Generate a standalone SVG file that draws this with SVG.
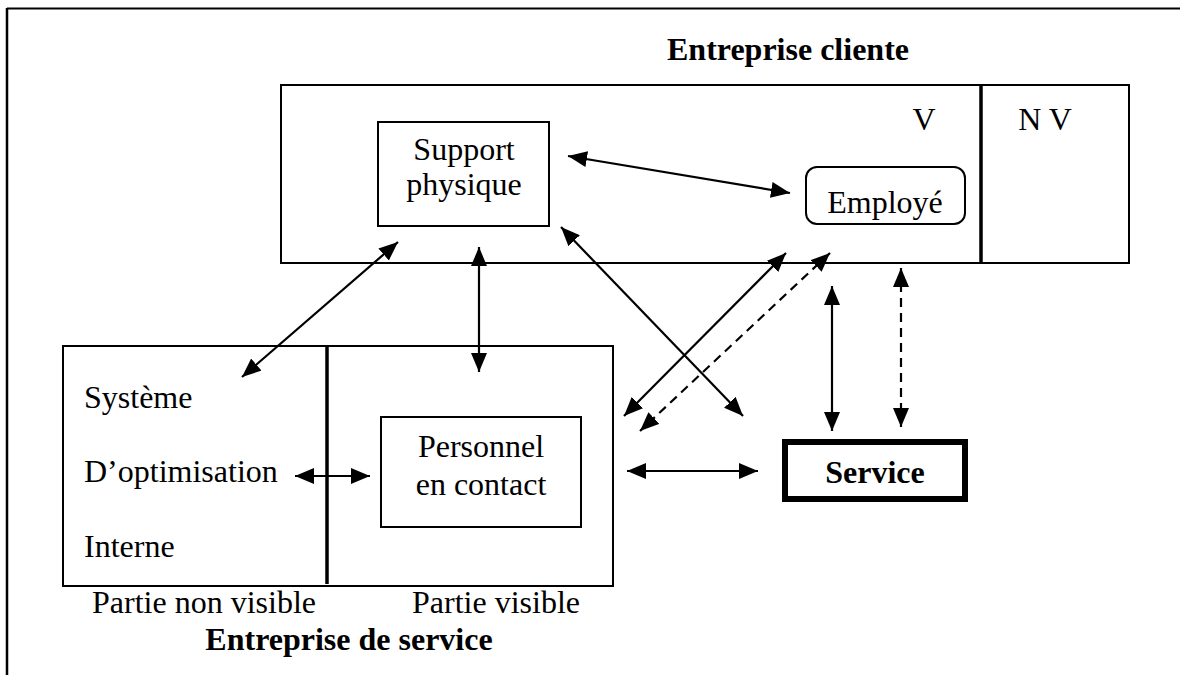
<svg xmlns="http://www.w3.org/2000/svg" width="1180" height="675" viewBox="0 0 1180 675" font-family="'Liberation Serif', 'DejaVu Serif', serif">
  <style>
    text { font-family: "Liberation Serif", "DejaVu Serif", serif; font-size: 32px; fill: #000; }
    .b { font-weight: bold; }
    .m { text-anchor: middle; }
    .box { fill: none; stroke: #000; stroke-width: 2; }
    .bar { stroke: #000; stroke-width: 3.5; }
    .link { fill: none; stroke: #000; stroke-width: 2.2; marker-start: url(#head); marker-end: url(#head); }
    .dash { stroke-dasharray: 9 6; }
  </style>
  <defs>
    <marker id="head" markerUnits="userSpaceOnUse" markerWidth="19" markerHeight="16" refX="19" refY="8" orient="auto-start-reverse">
      <path d="M0,0 L19,8 L0,16 Z" fill="#000"/>
    </marker>
  </defs>

  <rect width="1180" height="675" fill="#fff"/>

  <!-- page frame -->
  <g id="frame">
    <line x1="7" y1="8.5" x2="1180" y2="8.5" stroke="#000" stroke-width="2"/>
    <line x1="7" y1="8" x2="7" y2="675" stroke="#000" stroke-width="2.5"/>
  </g>

  <!-- client company -->
  <g id="entreprise-cliente">
    <text class="b m" x="788" y="60">Entreprise cliente</text>
    <rect class="box" x="281" y="85" width="848" height="178"/>
    <line class="bar" x1="981" y1="85" x2="981" y2="263"/>
    <text class="m" x="924" y="130">V</text>
    <text class="m" x="1045" y="130">N V</text>
  </g>

  <g id="support-physique">
    <rect class="box" x="378" y="122" width="171" height="104"/>
    <text class="m" x="464" y="160">Support</text>
    <text class="m" x="464" y="195">physique</text>
  </g>

  <g id="employe">
    <rect class="box" x="806" y="167" width="159" height="57" rx="11"/>
    <text class="m" x="885" y="213">Employé</text>
  </g>

  <!-- service company -->
  <g id="entreprise-de-service">
    <rect class="box" x="63" y="346" width="550" height="240"/>
    <line class="bar" x1="327" y1="346" x2="327" y2="584"/>
    <text x="84" y="408">Système</text>
    <text x="84" y="482">D’optimisation</text>
    <text x="84" y="557">Interne</text>
    <text class="m" x="204" y="613">Partie non visible</text>
    <text class="m" x="496" y="613">Partie visible</text>
    <text class="b m" x="349" y="650">Entreprise de service</text>
  </g>

  <g id="personnel-en-contact">
    <rect class="box" x="381" y="417" width="200" height="110"/>
    <text class="m" x="481" y="457">Personnel</text>
    <text class="m" x="481" y="495">en contact</text>
  </g>

  <g id="service">
    <rect x="785" y="442" width="180" height="57" fill="none" stroke="#000" stroke-width="6"/>
    <text class="b m" x="875" y="483">Service</text>
  </g>

  <!-- connectors -->
  <g id="connectors">
    <line class="link" x1="568" y1="156" x2="790" y2="193"/>
    <line class="link" x1="398" y1="242" x2="242" y2="377"/>
    <line class="link" x1="479" y1="247" x2="479" y2="372"/>
    <line class="link" x1="561" y1="227" x2="743" y2="416"/>
    <line class="link" x1="786" y1="253" x2="624" y2="416"/>
    <line class="link dash" x1="830" y1="253" x2="640" y2="431"/>
    <line class="link" x1="832" y1="286" x2="832" y2="431"/>
    <line class="link dash" x1="901" y1="268" x2="901" y2="427"/>
    <line class="link" x1="627" y1="471" x2="758" y2="471"/>
    <line class="link" x1="295" y1="476" x2="370" y2="476"/>
  </g>
</svg>
